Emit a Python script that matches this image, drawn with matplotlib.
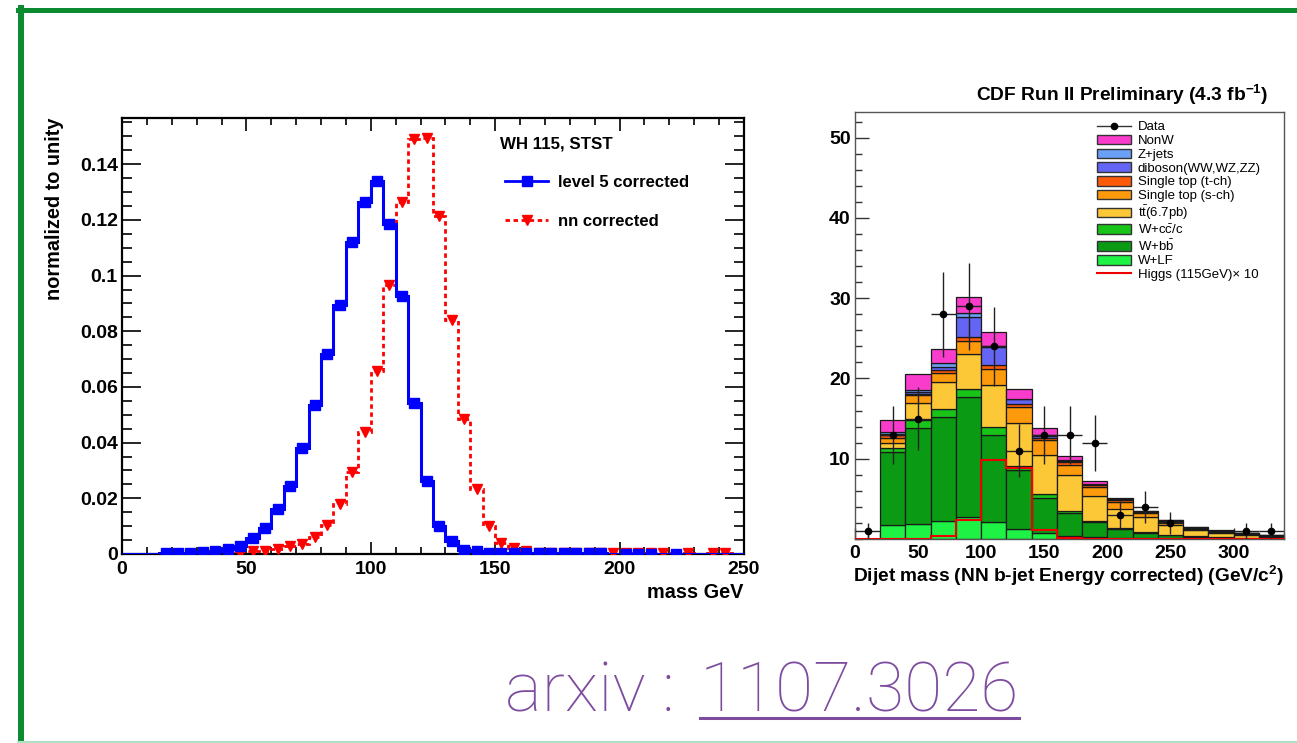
import matplotlib
matplotlib.use('Agg')
import matplotlib.pyplot as plt
from matplotlib.lines import Line2D
from matplotlib.patches import Patch
from matplotlib.ticker import MultipleLocator, FixedLocator
import numpy as np

plt.rcParams['font.family'] = ['Liberation Sans', 'DejaVu Sans']
plt.rcParams['mathtext.fontset'] = 'custom'
plt.rcParams['mathtext.rm'] = 'Liberation Sans'
plt.rcParams['mathtext.bf'] = 'Liberation Sans:bold'
plt.rcParams['mathtext.default'] = 'bf'

W, H = 1297, 743

# ---- left panel: WH 115 dijet mass, 5 GeV bins
mass_edges = np.arange(0, 255, 5)
level5 = [0, 0, 0, 0.0002, 0.0003, 0.0005, 0.0007, 0.001, 0.0018, 0.0027,
          0.0056, 0.0092, 0.0161, 0.0245, 0.0379, 0.0534, 0.0719, 0.0896, 0.1119, 0.1266,
          0.134, 0.1185, 0.0926, 0.0541, 0.0263, 0.0102, 0.0045, 0.0014, 0.0012, 0.0004,
          0.0002, 0.0002, 0.0002, 0.0002, 0.0002, 0.0002, 0.0002, 0.0002, 0.0002, 0,
          0.0001, 0.0001, 0.0001, 0, 0.0001, 0, 0, 0, 0, 0]
nn_corr = [0, 0, 0, 0, 0, 0, 0, 0.0002, 0.0003, 0.0005,
           0.001, 0.0011, 0.0018, 0.0027, 0.0036, 0.0062, 0.0104, 0.0179, 0.0295, 0.0438,
           0.0657, 0.0965, 0.1266, 0.149, 0.1493, 0.1213, 0.0842, 0.0486, 0.0235, 0.0099,
           0.0039, 0.002, 0.0012, 0.0005, 0.0005, 0.0005, 0.0005, 0.0005, 0.0005, 0.0002,
           0.0002, 0.0002, 0.0002, 0.0002, 0, 0.0002, 0, 0.0002, 0.0002, 0]
left_yticks = [0, 0.02, 0.04, 0.06, 0.08, 0.1, 0.12, 0.14]
left_yticklabels = ['0', '0.02', '0.04', '0.06', '0.08', '0.1', '0.12', '0.14']

# ---- right panel: CDF stacked backgrounds, 20 GeV bins from 20 to 340
stack_edges = np.arange(20, 341, 20)
w_lf = [1.7, 1.85, 2.26, 2.7, 2.06, 1.2, 0.74, 0.4, 0.25, 0.16, 0.12, 0.08, 0.05, 0.04, 0.03, 0.02]
w_bb = [9.1, 11.95, 12.94, 15.0, 10.94, 7.4, 4.36, 2.9, 1.81, 1.04, 0.62, 0.37, 0.25, 0.16, 0.09, 0.06]
w_cc = [0.6, 1.0, 1.0, 1.0, 0.9, 0.5, 0.5, 0.2, 0.14, 0.16, 0.12, 0.08, 0.05, 0.05, 0.03, 0.02]
ttbar = [0.6, 2.2, 3.3, 4.3, 5.3, 5.3, 4.9, 4.5, 3.2, 2.44, 1.94, 1.24, 0.72, 0.49, 0.3, 0.2]
stop_s = [0.6, 0.9, 1.2, 1.7, 2.0, 2.0, 1.8, 1.2, 1.1, 0.8, 0.4, 0.33, 0.18, 0.11, 0.15, 0.08]
stop_t = [0.3, 0.2, 0.3, 0.5, 0.5, 0.4, 0.3, 0.4, 0.25, 0.3, 0.2, 0.16, 0.1, 0.1, 0.1, 0.04]
diboson = [0.2, 0.25, 0.4, 2.5, 2.2, 0.6, 0.2, 0.1, 0.05, 0.05, 0.02, 0.04, 0.05, 0.03, 0.02, 0.02]
zjets = [0.2, 0.25, 0.5, 0.4, 0.2, 0.1, 0.2, 0.1, 0.1, 0.05, 0.03, 0.03, 0.05, 0.02, 0.02, 0.02]
nonw = [1.5, 1.9, 1.8, 2.1, 1.7, 1.2, 0.8, 0.5, 0.3, 0.1, 0.05, 0.07, 0.1, 0.07, 0.06, 0.04]

higgs_edges = np.arange(0, 341, 20)
higgs_x10 = [0, 0, 0, 0.4, 2.4, 9.9, 8.8, 1.07, 0.12, 0, 0, 0, 0, 0, 0, 0, 0]

data_x = [10, 30, 50, 70, 90, 110, 130, 150, 170, 190, 210, 230, 250, 270, 290, 310, 330]
data_y = [1, 13, 15, 28, 29, 24, 11, 13, 13, 12, 3, 4, 2, 0, 0, 1, 1]
data_err = [1.0, 3.6, 3.9, 5.3, 5.4, 4.9, 3.3, 3.6, 3.6, 3.5, 1.7, 2.0, 1.4, 0, 0, 1.0, 1.0]

stack = [
    ('W+LF', w_lf, '#1ef244'),
    (r'W+b$\mathrm{\bar{b}}$', w_bb, '#0a9a14'),
    (r'W+c$\mathrm{\bar{c}}$/c', w_cc, '#19c419'),
    (r'$\mathrm{t\bar{t}}$(6.7pb)', ttbar, '#fdc838'),
    ('Single top (s-ch)', stop_s, '#fd9a0c'),
    ('Single top (t-ch)', stop_t, '#fd5a0a'),
    ('diboson(WW,WZ,ZZ)', diboson, '#6464f5'),
    ('Z+jets', zjets, '#6aa0f5'),
    ('NonW', nonw, '#fa3ccd'),
]


def fx(px):
    return px / W


def fy(py):
    return 1 - py / H


fig = plt.figure(figsize=(W / 100, H / 100), dpi=100)

# ---------------- left panel
ax = fig.add_axes([fx(122), fy(554), fx(744) - fx(122), fy(118) - fy(554)])
centers = (mass_edges[:-1] + mass_edges[1:]) / 2
nn_arr = np.array(nn_corr)
l5_arr = np.array(level5)
red_dash = (0, (1.6, 1.3))
ax.stairs(nn_arr, mass_edges, color='#ff0000', lw=2, ls=red_dash, zorder=2)
ax.plot(centers[nn_arr > 0], nn_arr[nn_arr > 0], 'v', color='#ff0000', ms=7, zorder=3)
ax.stairs(l5_arr, mass_edges, color='#0000ff', lw=2.2, zorder=4)
ax.plot(centers[l5_arr > 0], l5_arr[l5_arr > 0], 's', color='#0000ff', ms=7, zorder=5)

ax.set_xlim(0, 250)
ax.set_ylim(0, 0.1566)
ax.xaxis.set_major_locator(MultipleLocator(50))
ax.xaxis.set_minor_locator(MultipleLocator(10))
ax.yaxis.set_major_locator(FixedLocator(left_yticks))
ax.set_yticklabels(left_yticklabels)
ax.yaxis.set_minor_locator(MultipleLocator(0.005))
ax.tick_params(which='both', direction='in', top=True, right=True, width=1.2)
ax.tick_params(axis='y', which='major', length=14, labelsize=14, pad=3)
ax.tick_params(axis='y', which='minor', length=7)
ax.tick_params(axis='x', which='major', length=9, labelsize=14, pad=5)
ax.tick_params(axis='x', which='minor', length=5)
for lab in ax.get_xticklabels() + ax.get_yticklabels():
    lab.set_fontweight('bold')
for sp in ax.spines.values():
    sp.set_linewidth(1.6)

fig.text(fx(55), fy(118), 'normalized to unity', rotation=90, ha='center', va='top',
         fontsize=14.3, fontweight='bold')
fig.text(fx(743), fy(592), 'mass GeV', ha='right', va='center', fontsize=14.3, fontweight='bold')
ax.text(0.608, 0.940, 'WH 115, STST', transform=ax.transAxes, fontsize=12.2,
        fontweight='bold', va='center')
handles = [Line2D([], [], color='#0000ff', lw=2, marker='s', ms=7),
           Line2D([], [], color='#ff0000', lw=2, ls=red_dash, marker='v', ms=7)]
ax.legend(handles, ['level 5 corrected', 'nn corrected'], loc='upper left',
          bbox_to_anchor=(fx(505), fy(175)), bbox_transform=fig.transFigure,
          frameon=False, numpoints=1, borderpad=0, borderaxespad=0,
          handlelength=2.6, handletextpad=0.55, labelspacing=1.45,
          prop={'size': 12, 'weight': 'bold'})

# ---------------- right panel
ax2 = fig.add_axes([fx(855), fy(539), fx(1284) - fx(855), fy(112) - fy(539)])
bottom = np.zeros(len(stack_edges) - 1)
for name, vals, col in stack:
    ax2.bar(stack_edges[:-1], vals, width=20, bottom=bottom, align='edge',
            color=col, edgecolor='#1a1a1a', lw=0.9, zorder=2)
    bottom = bottom + np.array(vals)
ax2.stairs(higgs_x10, higgs_edges, color='#ee0000', lw=1.5, zorder=3)
dx = np.array(data_x)
dy = np.array(data_y)
de = np.array(data_err)
keep = dy > 0
ax2.errorbar(dx[keep], dy[keep], yerr=de[keep], xerr=10, fmt='o', color='black',
             ecolor='#222222', elinewidth=1, ms=4.5, capsize=0, zorder=4)

ax2.set_xlim(0, 340)
ax2.set_ylim(0, 53.2)
ax2.xaxis.set_major_locator(MultipleLocator(50))
ax2.xaxis.set_minor_locator(MultipleLocator(10))
ax2.yaxis.set_major_locator(FixedLocator([10, 20, 30, 40, 50]))
ax2.yaxis.set_minor_locator(MultipleLocator(2))
ax2.tick_params(which='both', direction='in', width=1, color='#333333')
ax2.tick_params(axis='y', which='major', length=10, labelsize=14, pad=3)
ax2.tick_params(axis='y', which='minor', length=5)
ax2.tick_params(axis='x', which='major', length=8, labelsize=14, pad=4)
ax2.tick_params(axis='x', which='minor', length=4)
for lab in ax2.get_xticklabels() + ax2.get_yticklabels():
    lab.set_fontweight('bold')
for sp in ax2.spines.values():
    sp.set_linewidth(1)
    sp.set_color('#555555')

fig.text(fx(1268), fy(95), r'CDF Run II Preliminary (4.3 fb$^{-1}$)', ha='right', va='center',
         fontsize=13.8, fontweight='bold')
fig.text(fx(1284), fy(576), r'Dijet mass (NN b-jet Energy corrected) (GeV/c$^{2}$)',
         ha='right', va='center', fontsize=13.8, fontweight='bold')

leg_handles = [Line2D([], [], color='#333333', lw=1, marker='o', ms=4.5, mfc='black', mec='black')]
leg_labels = ['Data']
for name, vals, col in reversed(stack):
    leg_handles.append(Patch(facecolor=col, edgecolor='#333333', lw=1))
    leg_labels.append(name)
leg_handles.append(Line2D([], [], color='#ee0000', lw=1.5))
leg_labels.append('Higgs (115GeV)\u00d7 10')
ax2.legend(leg_handles, leg_labels, loc='upper left',
           bbox_to_anchor=(fx(1097), fy(121)), bbox_transform=fig.transFigure,
           frameon=False, borderpad=0, borderaxespad=0, handlelength=2.6,
           handleheight=0.75, handletextpad=0.5, labelspacing=0.1,
           prop={'size': 9.5})

# ---------------- slide decoration
green = '#0b8a2f'
fig.add_artist(Line2D([fx(18), 1], [fy(10), fy(10)], color=green, lw=3.6))
fig.add_artist(Line2D([fx(21), fx(21)], [fy(8), fy(743)], color=green, lw=4.3))
fig.add_artist(Line2D([fx(18), 1], [fy(742), fy(742)], color='#aee0c2', lw=1.5))

purple = '#7d4c9f'
fig.text(fx(505), fy(712), 'arxiv :', color=purple, fontsize=50, va='baseline', ha='left',
         family=['Roboto', 'Liberation Sans'], fontweight='light')
num = fig.text(fx(700), fy(712), '1107.3026', color=purple, fontsize=50, va='baseline',
               ha='left', family=['Roboto', 'Liberation Sans'], fontweight='light')
fig.canvas.draw()
bb = num.get_window_extent()
fig.add_artist(Line2D([bb.x0 / W, bb.x1 / W], [fy(718), fy(718)], color=purple, lw=2.2))

fig.savefig('out.png', dpi=100)
